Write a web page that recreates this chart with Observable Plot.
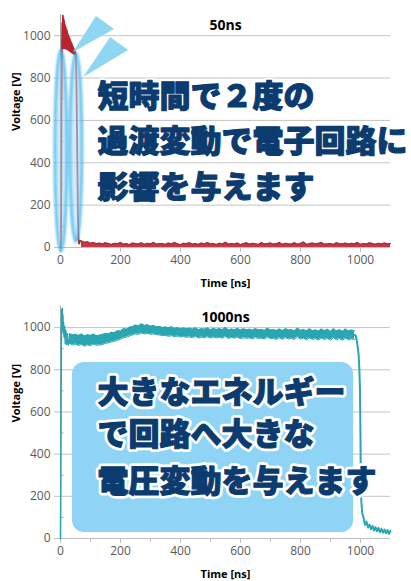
<!DOCTYPE html>
<html>
<head>
<meta charset="utf-8">
<script src="https://cdn.jsdelivr.net/npm/d3@7"></script>
<script src="https://cdn.jsdelivr.net/npm/@observablehq/plot@0.6"></script>
<style>
  html, body { margin: 0; padding: 0; background: #fff; }
  #wrap svg { display: block; overflow: visible; }
</style>
</head>
<body>
<div id="wrap"></div>
<script>
// ---------- data ----------
const xTicks = [0, 200, 400, 600, 800, 1000];
const yTicks = [0, 200, 400, 600, 800, 1000];
const gridValues = [200, 400, 600, 800, 1000];
const minorX = [100, 300, 500, 700, 900];
const minorY = [100, 300, 500, 700, 900];

const title1 = "50ns";
const title2 = "1000ns";
const xLabel = "Time [ns]";
const yLabel = "Voltage [V]";

// 50ns pulse (red): rise, ringing plateau, fall
const pulse1Time = [0, 1, 2, 3, 3.5, 4, 4.5, 5, 6, 7, 8, 9, 10, 11, 12, 13, 14, 15, 16, 17, 18, 19, 20, 21, 22, 23, 24, 25, 26, 27, 28, 29, 30, 31, 32, 33, 34, 35, 36, 37, 38, 39, 40, 41, 42, 43, 44, 45, 46, 47, 48, 49, 50, 52, 54, 56, 58, 60, 62, 65];
const pulse1Volt = [0, 10, 30, 420, 800, 700, 850, 960, 1060, 940, 1095, 945, 1080, 940, 1070, 945, 1055, 940, 1045, 942, 1035, 938, 1030, 940, 1020, 935, 1010, 936, 1000, 932, 995, 930, 988, 928, 980, 926, 972, 924, 966, 922, 960, 920, 952, 918, 946, 916, 940, 914, 934, 912, 928, 910, 920, 870, 680, 420, 160, 40, 18, 32];
// baseline noise after the pulse (upper envelope, 10 ns sampling)
const base1Start = 70, base1Step = 10;
const base1Volt = [
  30, 24, 27, 20, 23, 17, 21, 16, 22, 18, 14, 20, 17, 24, 15, 19, 13, 21, 18, 16,
  22, 14, 20, 17, 23, 15, 19, 18, 14, 21, 16, 24, 17, 13, 20, 18, 22, 15, 19, 14,
  21, 17, 23, 16, 18, 14, 20, 17, 25, 15, 19, 16, 21, 13, 18, 22, 15, 20, 17, 14,
  23, 16, 19, 21, 15, 18, 24, 14, 20, 17, 16, 22, 15, 19, 26, 14, 18, 21, 16, 20,
  23, 15, 17, 19, 14, 22, 18, 16, 21, 15, 20, 17, 24, 14, 19, 16, 22, 18, 15, 20,
  17, 21, 16, 19
];

// 1000ns pulse (teal)
const pulse2Time = [0, 1, 2, 3, 4, 5, 6, 7, 8, 9, 10, 12, 14, 16, 18, 20, 23, 26, 30];
const pulse2Volt = [0, 250, 680, 980, 1085, 1030, 1090, 990, 1060, 975, 1025, 955, 1005, 925, 985, 920, 970, 918, 945];
// plateau noise band (low / high envelopes, 10 ns sampling from 30 ns)
const plateau2Start = 30, plateau2Step = 10;
const plateau2High = [
  972, 965, 968, 962, 970, 960, 966, 963, 969, 961,
  964, 967, 972, 970, 978, 975, 985, 983, 995, 992,
  1002, 1004, 1012, 1008, 1018, 1010, 1014, 1006, 1010, 1004,
  1005, 1000, 1003, 998, 1004, 996, 1000, 995, 998, 994,
  997, 992, 999, 990, 995, 992, 998, 990, 996, 991,
  995, 990, 1001, 989, 993, 990, 996, 988, 994, 990,
  992, 987, 995, 989, 991, 986, 997, 988, 990, 986,
  993, 985, 995, 988, 990, 984, 998, 986, 991, 984,
  994, 985, 989, 983, 993, 985, 992, 982, 995, 984,
  990, 982, 993, 984, 988, 985
];
const plateau2Low = [
  925, 918, 922, 915, 920, 912, 918, 914, 921, 916,
  918, 920, 925, 928, 932, 935, 940, 945, 952, 955,
  960, 965, 970, 968, 974, 970, 972, 968, 970, 966,
  965, 962, 963, 958, 962, 956, 960, 955, 958, 954,
  956, 952, 958, 950, 955, 952, 957, 950, 955, 951,
  954, 950, 958, 948, 953, 950, 955, 947, 952, 949,
  951, 946, 954, 948, 950, 945, 955, 947, 949, 944,
  952, 944, 953, 946, 949, 943, 956, 945, 950, 942,
  951, 944, 948, 941, 950, 943, 949, 940, 952, 942,
  948, 940, 950, 942, 946, 944
];
const fall2Time = [980, 984, 988, 991, 994, 996, 998, 1000, 1001, 1003, 1006, 1010, 1015, 1020, 1025, 1030, 1035, 1040, 1045, 1050, 1055, 1060, 1065, 1070, 1075, 1080, 1085, 1090, 1095, 1100];
const fall2Volt = [965, 962, 935, 905, 865, 810, 720, 480, 260, 170, 120, 100, 65, 80, 52, 66, 44, 60, 38, 54, 34, 50, 30, 46, 28, 42, 25, 40, 22, 36];

// annotations (data coordinates: time ns, voltage V)
const text1Lines = ["短時間で２度の", "過渡変動で電子回路に", "影響を与えます"];
const text1Volt = [708, 500, 279];
const text1Time = 123;
const ellipses1 = [
  {t: 3, halfT: 20, v1: -20, v2: 930},
  {t: 53, halfT: 20, v1: 25, v2: 915}
];
const triangles1 = [
  [[120, 1091], [180, 1029], [43, 921]],
  [[167, 991], [227, 930], [77, 803]]
];
const text2Lines = ["大きなエネルギー", "で回路へ大きな", "電圧変動を与えます"];
const text2Volt = [690, 490, 268];
const text2Time = 123;
const box2 = {t1: 40, t2: 977, v1: 28, v2: 834};

// ---------- build series ----------
const redPulse = pulse1Time.map((t, i) => ({t, v: pulse1Volt[i]}));
const redBase = base1Volt.map((v, i) => ({t: base1Start + i * base1Step, v}));
const tealStart = pulse2Time.map((t, i) => ({t, v: pulse2Volt[i]}));
const tealBand = plateau2High.map((hi, i) => ({t: plateau2Start + i * plateau2Step, lo: plateau2Low[i], hi}));
const tealFall = fall2Time.map((t, i) => ({t, v: fall2Volt[i]}));

const RED = "#b82530";
const TEAL = "#2aa5b2";
const NAVY = "#0b3b6f";
const JP = "'Noto Sans CJK JP', 'Noto Sans CJK SC', sans-serif";

function shapesMark(ellipses, triangles) {
  return (index, scales) => {
    const g = d3.create("svg:g");
    const defs = g.append("defs");
    const f = defs.append("filter").attr("id", "glow1").attr("x", "-50%").attr("y", "-10%").attr("width", "200%").attr("height", "120%");
    f.append("feGaussianBlur").attr("stdDeviation", 1.2);
    for (const e of ellipses) {
      const cx = scales.x(e.t);
      const rx = Math.abs(scales.x(e.t + e.halfT) - scales.x(e.t));
      const ya = scales.y(e.v1), yb = scales.y(e.v2);
      g.append("ellipse")
        .attr("cx", cx).attr("cy", (ya + yb) / 2)
        .attr("rx", rx).attr("ry", Math.abs(ya - yb) / 2)
        .attr("fill", "#a6def6").attr("fill-opacity", 0.55)
        .attr("stroke", "#38b3e8").attr("stroke-width", 3).attr("stroke-opacity", 0.75)
        .attr("filter", "url(#glow1)");
    }
    for (const tri of triangles) {
      g.append("polygon")
        .attr("points", tri.map(([t, v]) => `${scales.x(t)},${scales.y(v)}`).join(" "))
        .attr("fill", "#8fd5f4");
    }
    return g.node();
  };
}

function calloutText(texts, textVolt, textTime, haloWidth) {
  const common = {
    x: () => textTime, y: (d, i) => textVolt[i], text: d => d,
    textAnchor: "start", lineAnchor: "middle",
    fontSize: 31, fontWeight: 900, fontFamily: JP
  };
  return [
    // white halo
    Plot.text(texts, {...common, fill: "white", stroke: "white", strokeWidth: haloWidth + 1.6, strokeLinejoin: "round"}),
    // heavy navy glyphs
    Plot.text(texts, {...common, fill: NAVY, stroke: NAVY, strokeWidth: 1.1, strokeLinejoin: "round"})
  ];
}

function chart({title, height, marginTop, texts, textVolt, textTime, before, series, after, minorXTicks, haloWidth}) {
  return Plot.plot({
    width: 411,
    height,
    marginLeft: 60,
    marginRight: 21,
    marginTop,
    marginBottom: 43,
    x: {domain: [0, 1100]},
    y: {domain: [0, 1100]},
    style: {fontFamily: "'Open Sans', sans-serif", fontSize: "12px", color: "#595959", background: "white"},
    marks: [
      Plot.ruleY(gridValues, {stroke: "#c4c4c4", strokeWidth: 1}),
      Plot.axisY({ticks: yTicks, tickFormat: d3.format("d"), tickSize: 6, tickPadding: 4, label: null, stroke: "#bfbfbf", fill: "#595959", fontSize: 12}),
      Plot.axisX({ticks: xTicks, tickFormat: d3.format("d"), tickSize: 5, tickPadding: 3, label: null, stroke: "#bfbfbf", fill: "#595959", fontSize: 12}),
      minorXTicks ? Plot.axisX({ticks: minorX, tickSize: 4, label: null, text: null, stroke: "#bfbfbf"}) : null,
      Plot.link(minorY, {x1: 0, x2: 10, y1: d => d, y2: d => d, stroke: "#a6a6a6"}),
      Plot.ruleX([0], {stroke: "#a6a6a6"}),
      Plot.ruleY([0], {stroke: "#bfbfbf"}),
      Plot.text([title], {frameAnchor: "top", lineAnchor: "middle", dy: 11, fontWeight: "bold", fontSize: 14, fill: "#000"}),
      Plot.text([yLabel], {frameAnchor: "left", lineAnchor: "middle", dx: -44, rotate: -90, fontWeight: "bold", fontSize: 11, fill: "#000"}),
      Plot.text([xLabel], {frameAnchor: "bottom", lineAnchor: "middle", dy: 36, fontWeight: "bold", fontSize: 11, fill: "#000"}),
      ...before,
      ...series,
      ...after,
      ...calloutText(texts, textVolt, textTime, haloWidth)
    ]
  });
}

const wrap = document.getElementById("wrap");

wrap.appendChild(chart({
  title: title1, height: 290, marginTop: 14,
  texts: text1Lines, textVolt: text1Volt, textTime: text1Time,
  before: [],
  series: [
    Plot.line(redPulse, {x: "t", y: "v", stroke: RED, strokeWidth: 1.8}),
    Plot.areaY(redBase, {x: "t", y: "v", fill: RED, fillOpacity: 0.9}),
    Plot.line(redBase, {x: "t", y: "v", stroke: RED, strokeWidth: 1.2}),
    Plot.line([redPulse[redPulse.length - 1], redBase[0]], {x: "t", y: "v", stroke: RED, strokeWidth: 1.5})
  ],
  after: [shapesMark(ellipses1, triangles1)],
  minorXTicks: false, haloWidth: 3
}));

wrap.appendChild(chart({
  title: title2, height: 291, marginTop: 16,
  texts: text2Lines, textVolt: text2Volt, textTime: text2Time,
  before: [Plot.rect([box2], {x1: "t1", x2: "t2", y1: "v1", y2: "v2", fill: "#8fd4f4", rx: 12})],
  series: [
    Plot.line(tealStart, {x: "t", y: "v", stroke: TEAL, strokeWidth: 1.6}),
    Plot.areaY(tealBand, {x: "t", y1: "lo", y2: "hi", fill: TEAL}),
    Plot.line(tealBand, {x: "t", y: "hi", stroke: TEAL, strokeWidth: 1}),
    Plot.line(tealBand, {x: "t", y: "lo", stroke: TEAL, strokeWidth: 1}),
    Plot.line(tealFall, {x: "t", y: "v", stroke: TEAL, strokeWidth: 2})
  ],
  after: [],
  minorXTicks: true, haloWidth: 5
}));
</script>
</body>
</html>
